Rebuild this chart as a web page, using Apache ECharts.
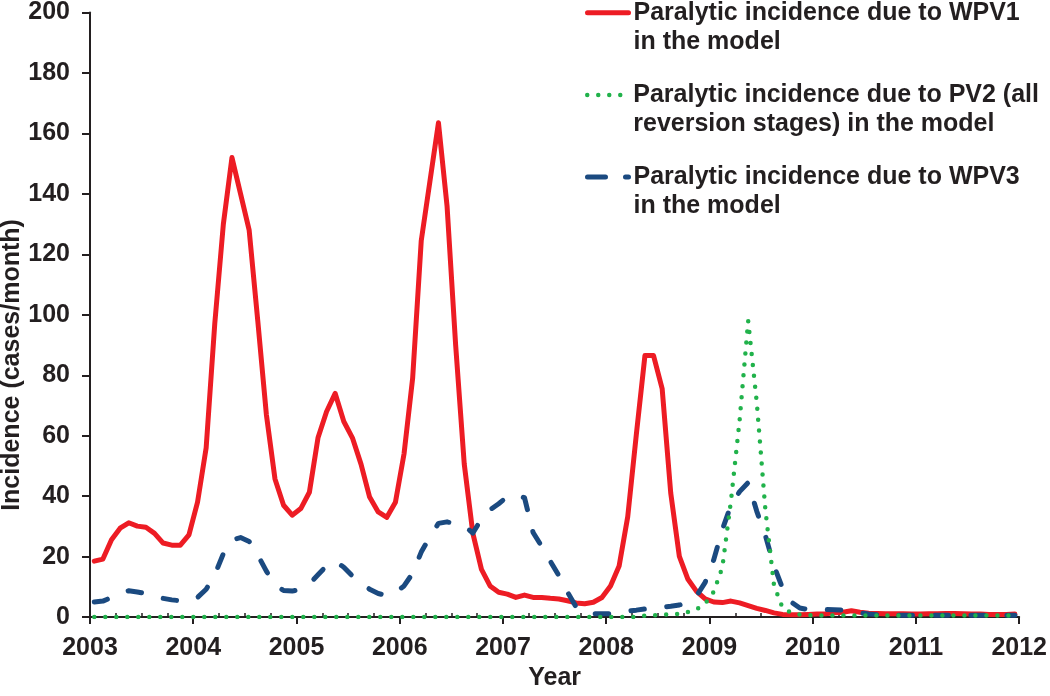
<!DOCTYPE html>
<html>
<head>
<meta charset="utf-8">
<script src="https://cdn.jsdelivr.net/npm/echarts@6/dist/echarts.min.js"></script>
<style>
html,body{margin:0;padding:0;background:#fff;}
#c{width:1050px;height:696px;}
</style>
</head>
<body>
<div id="c"></div>
<script>
// Monthly model incidence (cases/month), Jan 2003 .. Dec 2011, one value per month (plotted mid-month)
const START_YEAR = 2003;
const wpv1 = [
  18.5, 19.2, 25.6, 29.4, 31.2, 30.1, 29.7, 27.7, 24.5, 23.8, 23.8, 27.2,
  38, 56, 97, 130, 152, 140, 128, 98, 67, 45.7, 37, 33.7,
  35.9, 41.3, 59.3, 68, 74, 64.7, 59.3, 50.6, 39.7, 34.8, 33, 38,
  54, 79, 124.5, 144, 163.5, 136, 90, 50.6, 27.7, 15.8, 10.3, 8.2,
  7.6, 6.5, 7.3, 6.5, 6.5, 6.2, 6.0, 5.4, 4.7, 4.4, 4.9, 6.5,
  10.3, 16.9, 33.2, 60.4, 86.5, 86.5, 75.6, 41, 20.1, 12.5, 8.5, 6.0,
  5.0, 4.8, 5.3, 4.7, 3.8, 2.9, 2.2, 1.4, 0.9, 0.8, 0.8, 0.9,
  1.0, 1.1, 1.4, 1.6, 2.1, 1.6, 1.3, 1.2, 1.1, 1.1, 1.1, 1.0,
  1.0, 1.1, 1.1, 1.2, 1.2, 1.1, 1.0, 1.0, 0.9, 0.9, 0.9, 1.0
];
const pv2 = [
  0, 0, 0, 0, 0, 0, 0, 0, 0, 0, 0, 0,
  0, 0, 0, 0, 0, 0, 0, 0, 0, 0, 0, 0,
  0, 0, 0, 0, 0, 0, 0, 0, 0, 0, 0, 0,
  0, 0, 0, 0, 0, 0, 0, 0, 0, 0, 0, 0,
  0, 0, 0, 0, 0, 0, 0, 0, 0, 0, 0, 0,
  0, 0, 0, 0, 0.5, 0.6, 0.8, 0.9, 1.1, 1.7, 2.6, 4.5,
  8.4, 16.5, 38.5, 65, 98, 71, 35.5, 10.5, 3, 1.5, 0.8, 0.6,
  0.5, 0.5, 0.5, 0.5, 0.5, 0.5, 0.5, 0.5, 0.5, 0.5, 0.5, 0.5,
  0.5, 0.5, 0.5, 0.5, 0.5, 0.5, 0.5, 0.5, 0.5, 0.5, 0.5, 0.5
];
const wpv3 = [
  5.0, 5.3, 6.5, 8.0, 8.7, 8.3, 7.8, 7.2, 6.2, 5.7, 5.4, 5.3,
  6.5, 9.2, 14, 21, 25.5, 26.3, 25, 20.5, 15.2, 10.7, 8.8, 8.6,
  9.2, 11, 14, 17, 18.5, 16.5, 13.6, 11.5, 9.2, 7.8, 7.1, 8.2,
  10.3, 14.5, 21.5, 26.5, 31, 31.5, 30.8, 30.2, 27.8, 32.5, 35.5, 37.5,
  39.8, 40.5, 39.5, 28, 23.4, 18.5, 13.7, 8.3, 3.3, 1.5, 1.1, 1.1,
  1.1, 1.5, 2.0, 2.3, 2.7, 2.9, 3.3, 3.6, 4.0, 5.0, 7.0, 11.5,
  19, 29, 37, 41.5, 44.5, 35, 27, 17, 9.5, 5, 3, 2.5,
  2.5, 2.5, 2.4, 2.3, 2.0, 1.4, 1.0, 0.8, 0.6, 0.6, 0.6, 0.6,
  0.6, 0.6, 0.6, 0.6, 0.6, 0.6, 0.6, 0.6, 0.6, 0.6, 0.6, 0.6
];
const seriesNames = [
  'Paralytic incidence due to WPV1\nin the model',
  'Paralytic incidence due to PV2 (all\nreversion stages) in the model',
  'Paralytic incidence due to WPV3\nin the model'
];
const yearMin = 2003, yearMax = 2012;
const yMin = 0, yMax = 200, yStep = 20;

const FONT = '"Liberation Sans", Arial, Helvetica, sans-serif';
const INK = '#231f20';
const RED = '#ed1c24', GREEN = '#21b24b', BLUE = '#1b4a80';

function toPoints(arr) {
  return arr.map((v, i) => [START_YEAR + (i + 0.5) / 12, v]);
}

const LH = 29.5;
function legendFor(name, top, lineStyle) {
  return {
    data: [name],
    orient: 'vertical',
    left: 585,
    top: top,
    padding: 0,
    itemWidth: 41,
    itemHeight: 14,
    selectedMode: false,
    itemStyle: {opacity: 0, borderWidth: 0},
    lineStyle: lineStyle,
    // a blank first line puts the first text line level with the icon
    formatter: n => '\n' + n,
    textStyle: {
      fontFamily: FONT, fontSize: 25, fontWeight: 'bold', color: INK,
      lineHeight: LH
    }
  };
}

const chart = echarts.init(document.getElementById('c'), null, {renderer: 'canvas'});
chart.setOption({
  animation: false,
  backgroundColor: '#fff',
  grid: {left: 90, right: 28, top: 12, bottom: 71, containLabel: false},
  legend: [
    legendFor(seriesNames[0], -31.5, {width: 5, cap: 'round', opacity: 1}),
    legendFor(seriesNames[1], 50.7, {width: 4.5, cap: 'round', type: [0, 11], opacity: 1}),
    legendFor(seriesNames[2], 132.7, {width: 5, cap: 'round', type: [18, 20], opacity: 1})
  ],
  xAxis: {
    type: 'value', min: yearMin, max: yearMax, interval: 1,
    name: 'Year', nameLocation: 'middle', nameGap: 48,
    nameTextStyle: {fontFamily: FONT, fontSize: 25, fontWeight: 'bold', color: INK},
    axisLine: {lineStyle: {color: INK, width: 2}},
    axisTick: {length: 7, lineStyle: {color: INK, width: 2}},
    minorTick: {show: true, splitNumber: 4, length: -4, lineStyle: {color: INK, width: 1.5}},
    splitLine: {show: false},
    minorSplitLine: {show: false},
    axisLabel: {fontFamily: FONT, fontSize: 25, fontWeight: 'bold', color: INK, margin: 19,
      formatter: v => String(v)}
  },
  yAxis: {
    type: 'value', min: yMin, max: yMax, interval: yStep,
    axisLine: {show: true, lineStyle: {color: INK, width: 2}},
    axisTick: {show: true, length: 8, lineStyle: {color: INK, width: 2}},
    splitLine: {show: false},
    axisLabel: {fontFamily: FONT, fontSize: 25, fontWeight: 'bold', color: INK, margin: 20}
  },
  graphic: [{
    type: 'text', x: 12, y: 365, rotation: Math.PI / 2,
    style: {text: 'Incidence (cases/month)', font: 'bold 25px ' + FONT, fill: INK,
      align: 'center', verticalAlign: 'middle'}
  }],
  series: [
    {
      name: seriesNames[0], type: 'line', data: toPoints(wpv1), symbol: 'none', z: 2,
      lineStyle: {color: RED, width: 5, cap: 'round', join: 'round'},
      itemStyle: {color: RED}
    },
    {
      name: seriesNames[1], type: 'line', data: toPoints(pv2), symbol: 'none', z: 4,
      lineStyle: {color: GREEN, width: 4.5, cap: 'round', join: 'round', type: [0, 11]},
      itemStyle: {color: GREEN}
    },
    {
      name: seriesNames[2], type: 'line', data: toPoints(wpv3), symbol: 'none', z: 3,
      lineStyle: {color: BLUE, width: 5, cap: 'round', join: 'round', type: [13.5, 22.5]},
      itemStyle: {color: BLUE}
    }
  ]
});
</script>
</body>
</html>
